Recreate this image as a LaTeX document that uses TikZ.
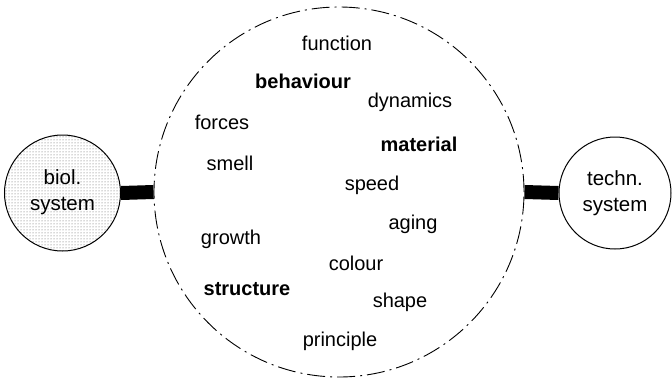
\documentclass[tikz,border=0pt]{standalone}
\usepackage{fontspec}
\setmainfont{Liberation Sans}
\usetikzlibrary{patterns}
\begin{document}
\begin{tikzpicture}[x=1pt,y=-1pt,
  lbl/.style={anchor=base,font=\fontsize{20}{24}\selectfont,inner sep=0pt},
  blbl/.style={lbl,font=\fontsize{20}{24}\selectfont\bfseries},
  sys/.style={circle,draw,line width=1pt,inner sep=0pt,align=center,
    font=\fontsize{20.5}{26}\selectfont},
  bigc/.style={circle,draw,line width=0.9pt,inner sep=0pt,
    dash pattern=on 18pt off 5pt on 2pt off 5pt},
  bar/.style={line width=14pt,line cap=butt}]
\useasboundingbox (0,0) rectangle (672,383);
\node[bigc,minimum size=370pt] (big) at (339,192) {};
\node[sys,minimum size=116pt,pattern=dots,pattern color=black!65] (bio) at (62.5,193) {};
\node[align=center,font=\fontsize{20.5}{26}\selectfont,inner sep=0pt] (biot) at (62.5,192) {biol.\\system};
\node[sys,minimum size=112pt] (tec) at (615,193) {techn.\\system};
\draw[bar] (bio.east) -- (big.west);
\draw[bar] (big.east) -- (tec.west);
\node[lbl] (function) at (337,50) {function};
\node[blbl] (behaviour) at (303,88) {behaviour};
\node[lbl] (dynamics) at (410,107) {dynamics};
\node[lbl] (forces) at (222,129) {forces};
\node[blbl] (material) at (419,151) {material};
\node[lbl] (smell) at (230,170) {smell};
\node[lbl] (speed) at (372,190) {speed};
\node[lbl] (aging) at (413,229) {aging};
\node[lbl] (growth) at (231,244) {growth};
\node[lbl] (colour) at (356,270) {colour};
\node[blbl] (structure) at (247,295) {structure};
\node[lbl] (shape) at (400,307) {shape};
\node[lbl] (principle) at (340,346) {principle};
\end{tikzpicture}
\end{document}
